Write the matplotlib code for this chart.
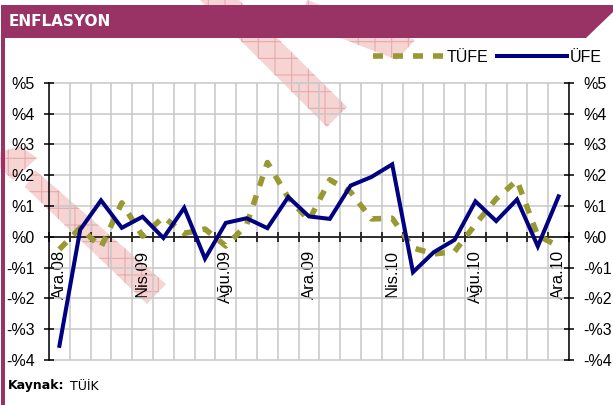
import matplotlib
matplotlib.use('Agg')
import matplotlib.pyplot as plt
from matplotlib.patches import Polygon
import numpy as np

# aylik degisim (%), Ara.08 - Ara.10
tufe = [-0.41, 0.29, -0.34, 1.10, 0.02, 0.64, 0.11, 0.25, -0.30, 0.39, 2.41, 1.27, 0.53,
        1.85, 1.45, 0.58, 0.60, -0.36, -0.56, -0.48, 0.40, 1.23, 1.83, 0.03, -0.30]
ufe = [-3.54, 0.23, 1.18, 0.29, 0.65, -0.04, 0.94, -0.71, 0.45, 0.60, 0.28, 1.29, 0.66,
       0.58, 1.66, 1.94, 2.35, -1.15, -0.50, -0.10, 1.15, 0.51, 1.21, -0.31, 1.31]
tick_labels = ['Ara.08', 'Nis.09', 'Ağu.09', 'Ara.09', 'Nis.10', 'Ağu.10', 'Ara.10']
y_ticks = list(range(-4, 6))

W, H = 613, 405
plt.rcParams['font.family'] = 'Liberation Sans'
plt.rcParams['hatch.linewidth'] = 0.8
fig = plt.figure(figsize=(W / 100, H / 100), dpi=100)


def fp(pts):
    # pixel coords -> figure fraction
    return [(px / W, 1 - py / H) for px, py in pts]


# watermark stripes
stripes = [
    [(200, 0), (239, 0), (347, 107), (327, 127)],
    [(307, 0), (415, 40), (397, 60), (300, 22)],
    [(0, 152), (20, 146), (37, 158), (13, 180), (0, 168)],
    [(35, 170), (166, 284), (147, 304), (25, 187)],
]
for s in stripes:
    fig.add_artist(Polygon(fp(s), closed=True, transform=fig.transFigure,
                           facecolor='#f6d4d4', edgecolor='#e6aaaa', hatch='+',
                           lw=0, zorder=-1))

# header bar + left border
maroon = '#993366'
fig.add_artist(Polygon(fp([(1, 5), (613, 5), (613, 12), (586, 38), (1, 38)]),
                       transform=fig.transFigure, facecolor=maroon, lw=0, zorder=2))
fig.add_artist(Polygon(fp([(1, 38), (4.5, 38), (4.5, 405), (1, 405)]),
                       transform=fig.transFigure, facecolor=maroon, lw=0, zorder=2))
fig.text(9 / W, 1 - 21 / H, 'ENFLASYON', color='white', fontweight='bold',
         fontsize=11, family='DejaVu Sans', va='center', zorder=3)
fig.text(8 / W, 1 - 386 / H, 'Kaynak:', fontweight='bold', fontsize=9,
         family='DejaVu Sans', va='center')
fig.text(70 / W, 1 - 386 / H, 'TÜİK', fontsize=9, family='DejaVu Sans', va='center')

ax = fig.add_axes([49 / W, 1 - 360 / H, 520 / W, (360 - 82.7) / H])
ax.set_facecolor('none')

x = np.arange(len(ufe))
ax.plot(x, tufe, color='#999933', lw=4, linestyle=(0, (1.8, 1.8)),
        dash_capstyle='butt', label='TÜFE', zorder=3)
ax.plot(x, ufe, color='#000080', lw=2.9, solid_joinstyle='miter', label='ÜFE', zorder=4)

ax.set_xlim(-0.5, len(ufe) - 0.5)
ax.set_ylim(-4, 5)
ax.set_yticks(y_ticks)
ax.set_yticklabels(['%' + str(v) if v >= 0 else '-%' + str(-v) for v in y_ticks])
ax.set_xticks(np.arange(0, len(ufe), 4))
ax.set_xticklabels(tick_labels)
ax.set_xticks(np.arange(-0.5, len(ufe), 1), minor=True)

ax.spines['bottom'].set_position(('data', 0))
ax.spines['top'].set_visible(False)
for sp in ['bottom', 'left', 'right']:
    ax.spines[sp].set_linewidth(1.1)

ax.grid(axis='y', which='major', color='#c8c8c8', lw=1.1)
ax.grid(axis='x', which='minor', color='#c8c8c8', lw=1.1)
for gl in ax.get_ygridlines():
    gl.set_clip_on(False)
ax.set_axisbelow(True)

ax.tick_params(axis='y', which='major', direction='inout', length=7.2, width=1.1,
               pad=6.5, labelsize=11.5, left=True, right=True,
               labelleft=True, labelright=True)
ax.tick_params(axis='x', which='major', length=0, pad=9.4, labelsize=12,
               labelrotation=90)
ax.tick_params(axis='x', which='minor', direction='inout', length=7.2, width=1.1)

ax.legend(loc='center right', bbox_to_anchor=(602 / W, 1 - 57 / H),
          bbox_transform=fig.transFigure, ncol=2, frameon=False, fontsize=11.5,
          handlelength=4.4, handletextpad=0.2, columnspacing=0.5,
          borderpad=0, borderaxespad=0)

fig.savefig('out.png', dpi=100)
